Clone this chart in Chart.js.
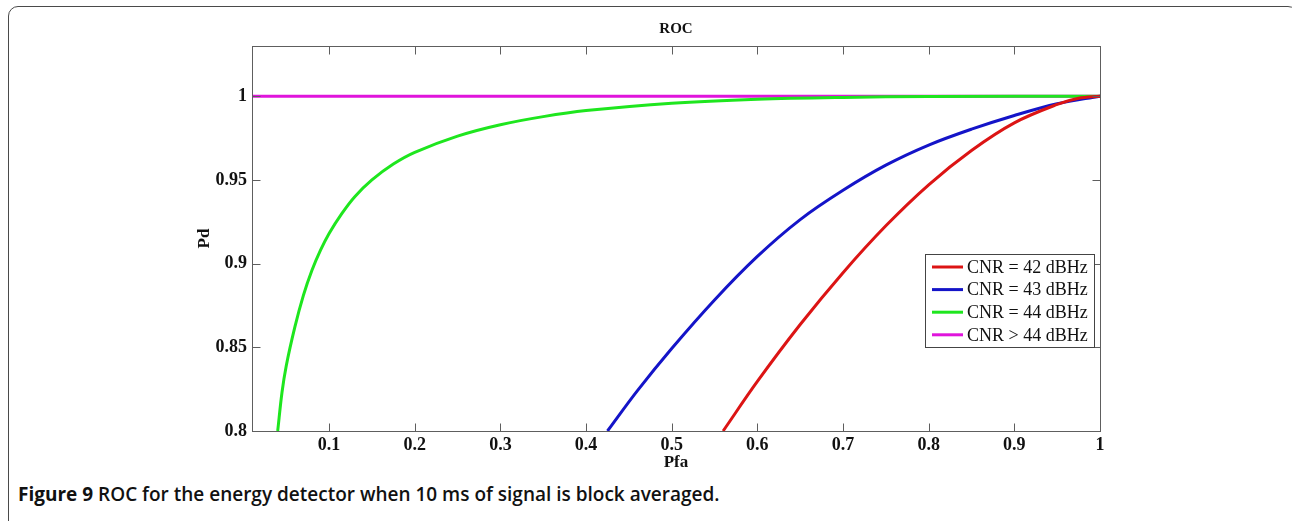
<!DOCTYPE html>
<html>
<head>
<meta charset="utf-8">
<script src="https://cdn.jsdelivr.net/npm/chart.js@4/dist/chart.umd.min.js"></script>
<style>
  body { margin: 0; background: #fff; }
  #page { position: relative; width: 1292px; height: 521px; overflow: hidden; background: #fff; }
  #frame {
    position: absolute; left: 8px; top: 6px; width: 1290px; height: 600px;
    border: 1.5px solid #4a4a4a; border-radius: 10px; box-sizing: border-box;
  }
  #plot { position: absolute; left: 0; top: 0; }
  #caption {
    position: absolute; left: 18px; top: 481px;
    font-family: "Open Sans", sans-serif; font-size: 19px; color: #111;
    font-weight: 600; white-space: nowrap;
  }
  #caption b { font-weight: 700; }
</style>
</head>
<body>
<div id="page">
  <div id="frame"></div>
  <canvas id="plot" width="1292" height="480"></canvas>
  <div id="caption"><b>Figure 9</b> ROC for the energy detector when 10 ms of signal is block averaged.</div>
</div>
<script>
// ROC curves: probability of detection vs probability of false alarm

const pfaTicks = [0.1, 0.2, 0.3, 0.4, 0.5, 0.6, 0.7, 0.8, 0.9, 1];
const pdTicks = [0.8, 0.85, 0.9, 0.95, 1];

const pfa42 = [0.560, 0.600, 0.650, 0.700, 0.750, 0.800, 0.850, 0.900, 0.950, 0.975, 1.0];
const pd42  = [0.800, 0.8296, 0.8636, 0.8946, 0.9226, 0.9471, 0.9676, 0.9841, 0.9951, 0.9988, 1.0];

const pfa43 = [0.425, 0.460, 0.500, 0.550, 0.600, 0.650, 0.700, 0.750, 0.800, 0.850, 0.900, 0.950, 1.0];
const pd43  = [0.800, 0.8241, 0.8493, 0.8783, 0.9043, 0.9263, 0.9438, 0.9588, 0.9708, 0.9803, 0.9885, 0.9955, 1.0];

const pfa44 = [0.040, 0.045, 0.050, 0.060, 0.070, 0.080, 0.090, 0.100, 0.115, 0.130, 0.150, 0.175, 0.200, 0.250, 0.300, 0.350, 0.400, 0.500, 0.600, 0.700, 0.800, 1.0];
const pd44  = [0.800, 0.823, 0.839, 0.862, 0.881, 0.896, 0.908, 0.918, 0.930, 0.940, 0.950, 0.9595, 0.9665, 0.9762, 0.9830, 0.9878, 0.9914, 0.9958, 0.9982, 0.9993, 0.9998, 1.0];

const pfaHigh = [0.01, 1.0];
const pdHigh  = [1.0, 1.0];

const labels = ['CNR = 42 dBHz', 'CNR = 43 dBHz', 'CNR = 44 dBHz', 'CNR > 44 dBHz'];
const colors = ['#dc1414', '#1414c8', '#1ee61e', '#e014dc'];

const SERIF = '"Liberation Serif", "Times New Roman", serif';

function pairs(xs, ys) {
  return xs.map((x, i) => ({ x: x, y: ys[i] }));
}

function fmt(v) {
  return String(+v.toFixed(2));
}

// Box, inward ticks, titles and legend drawn MATLAB-style
const matlabAxes = {
  id: 'matlabAxes',
  afterDraw(chart) {
    const ctx = chart.ctx;
    const a = chart.chartArea;
    const xs = chart.scales.x;
    const ys = chart.scales.y;
    const L = Math.round(a.left) + 0.5, R = Math.round(a.right) + 0.5;
    const T = Math.round(a.top) + 0.5, B = Math.round(a.bottom) + 0.5;
    ctx.save();
    ctx.strokeStyle = '#5e5e5e';
    ctx.lineWidth = 1;
    ctx.strokeRect(L, T, R - L, B - T);
    ctx.beginPath();
    pfaTicks.forEach(v => {
      const px = Math.round(xs.getPixelForValue(v)) + 0.5;
      ctx.moveTo(px, B); ctx.lineTo(px, B - 8);
      ctx.moveTo(px, T); ctx.lineTo(px, T + 8);
    });
    pdTicks.forEach(v => {
      const py = Math.round(ys.getPixelForValue(v)) + 0.5;
      ctx.moveTo(L, py); ctx.lineTo(L + 8, py);
      ctx.moveTo(R, py); ctx.lineTo(R - 8, py);
    });
    ctx.stroke();

    // titles
    ctx.fillStyle = '#111';
    ctx.textAlign = 'center';
    ctx.textBaseline = 'middle';
    ctx.font = 'bold 15px ' + SERIF;
    ctx.fillText('ROC', (a.left + a.right) / 2, 29);
    ctx.font = 'bold 17px ' + SERIF;
    ctx.fillText('Pfa', (a.left + a.right) / 2, 463);
    ctx.translate(205, (a.top + a.bottom) / 2);
    ctx.rotate(-Math.PI / 2);
    ctx.fillText('Pd', 0, 0);
    ctx.restore();

    // legend
    ctx.save();
    const bx = 925.5, by = 254.5, bw = 169, bh = 93;
    ctx.fillStyle = '#fff';
    ctx.fillRect(bx, by, bw, bh);
    ctx.strokeStyle = '#444';
    ctx.lineWidth = 1;
    ctx.strokeRect(bx, by, bw, bh);
    ctx.font = '18px ' + SERIF;
    ctx.textAlign = 'left';
    ctx.textBaseline = 'middle';
    chart.data.datasets.forEach((ds, i) => {
      const cy = 267 + i * 22.6;
      ctx.strokeStyle = ds.borderColor;
      ctx.lineWidth = 3;
      ctx.beginPath();
      ctx.moveTo(932, cy); ctx.lineTo(963, cy);
      ctx.stroke();
      ctx.fillStyle = '#111';
      ctx.fillText(ds.label, 967, cy + 1);
    });
    ctx.restore();
  }
};

const series = [
  pairs(pfa42, pd42),
  pairs(pfa43, pd43),
  pairs(pfa44, pd44),
  pairs(pfaHigh, pdHigh)
];

new Chart(document.getElementById('plot'), {
  type: 'line',
  data: {
    datasets: series.map((d, i) => ({
      label: labels[i],
      data: d,
      borderColor: colors[i],
      borderWidth: 3,
      pointRadius: 0,
      tension: 0.35,
      fill: false
    }))
  },
  options: {
    responsive: false,
    animation: false,
    devicePixelRatio: 1,
    layout: { padding: { left: 192, right: 192, top: 46, bottom: 9 } },
    plugins: {
      legend: { display: false },
      tooltip: { enabled: false },
      title: { display: false }
    },
    scales: {
      x: {
        type: 'linear',
        min: 0.01,
        max: 1,
        grid: { display: false, drawTicks: false },
        border: { display: false },
        afterBuildTicks: s => { s.ticks = pfaTicks.map(v => ({ value: v })); },
        afterFit: s => { s.height = 40; },
        ticks: {
          padding: 4,
          maxRotation: 0,
          autoSkip: false,
          color: '#111',
          font: { family: SERIF, size: 18, weight: 'bold' },
          callback: v => fmt(v)
        }
      },
      y: {
        type: 'linear',
        min: 0.8,
        max: 1.03,
        grid: { display: false, drawTicks: false },
        border: { display: false },
        afterBuildTicks: s => { s.ticks = pdTicks.map(v => ({ value: v })); },
        afterFit: s => { s.width = 60; },
        ticks: {
          padding: 5,
          autoSkip: false,
          color: '#111',
          font: { family: SERIF, size: 18, weight: 'bold' },
          callback: v => fmt(v)
        }
      }
    }
  },
  plugins: [matlabAxes]
});
</script>
</body>
</html>
